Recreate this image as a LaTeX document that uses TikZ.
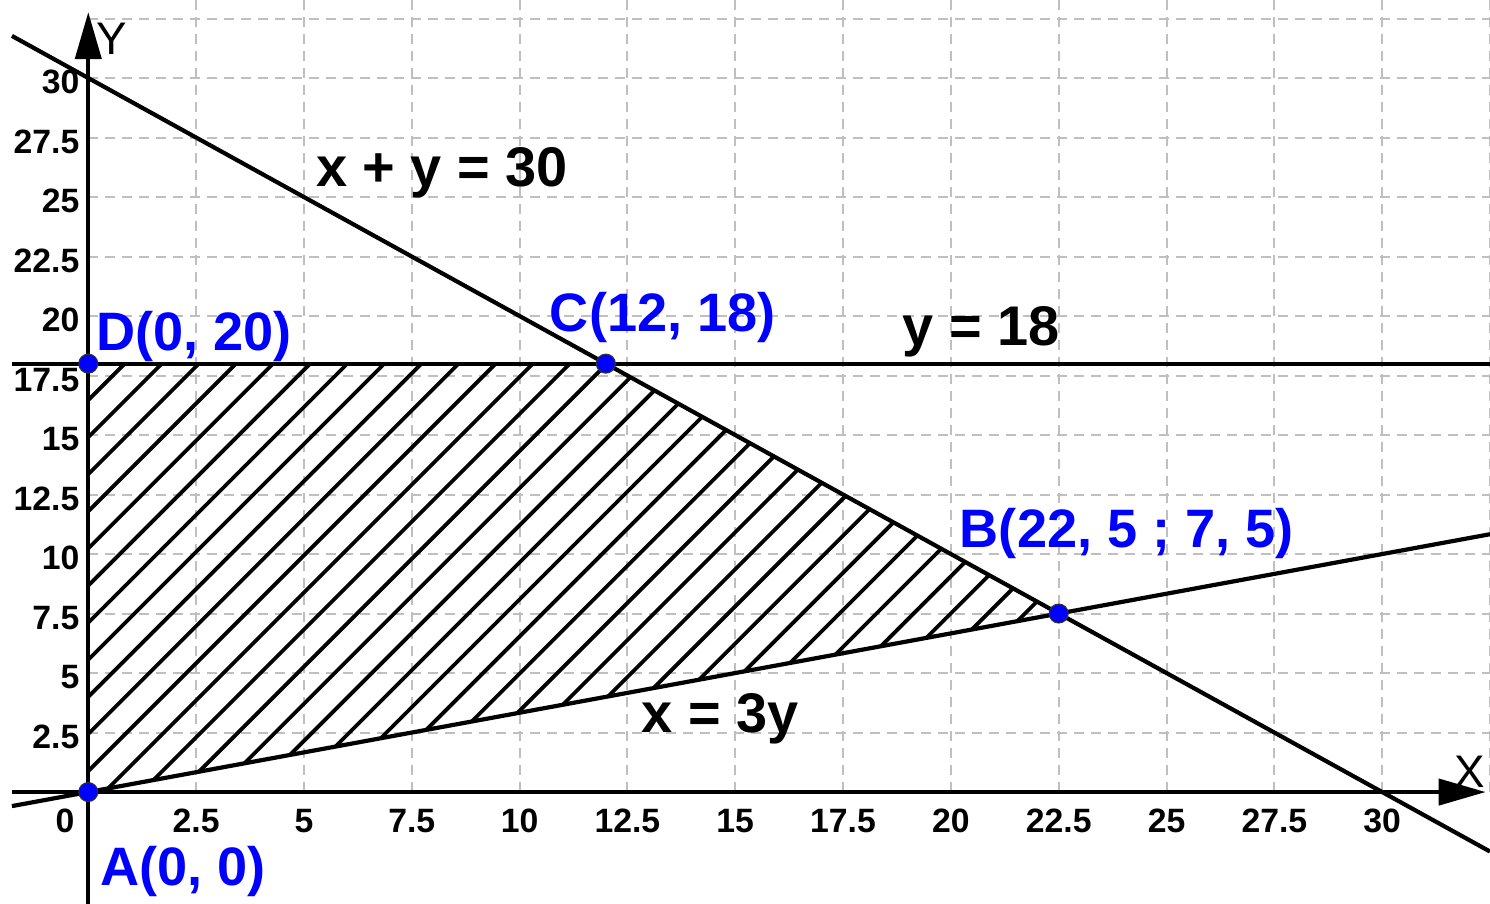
\documentclass[tikz,border=0pt]{standalone}
\usepackage{fontspec}
\setmainfont{Liberation Sans}
\usetikzlibrary{arrows.meta}
\tikzstyle{gridline} = [black!25, line width=0.02cm, dash pattern=on 0.1cm off 0.07cm]
\tikzstyle{axisline} = [-{Triangle[length=0.47cm, width=0.26cm]}, line width=0.042cm]
\tikzstyle{boundary} = [line width=0.042cm]
\tikzstyle{hatch} = [line width=0.038cm]
\tikzstyle{corner} = [circle, fill=blue, draw=black!80, line width=0.3pt, inner sep=0pt, minimum size=0.19cm]
\tikzstyle{ptlabel} = [text=blue, font=\fontsize{15.4}{19}\selectfont\bfseries, anchor=base, inner sep=0pt]
\tikzstyle{eqlabel} = [font=\fontsize{15.9}{19}\selectfont\bfseries, anchor=base, inner sep=0pt]
\tikzstyle{ticklabel} = [font=\fontsize{9.6}{11}\selectfont\bfseries, inner sep=0pt]
\tikzstyle{axislabel} = [font=\fontsize{13}{15}\selectfont, anchor=base, inner sep=0pt]
\begin{document}
\begin{tikzpicture}[x=0.4313cm, y=0.238cm]
    \useasboundingbox (-2.047,-4.664) rectangle (32.5,33.28);

    % Grid
    \foreach \v in {2.5,5,7.5,10,12.5,15,17.5,20,22.5,25,27.5,30,32.5} {
        \draw[gridline] (\v,0) -- (\v,33.28);
        \draw[gridline] (0,\v) -- (32.5,\v);
    }

    % Corners of the region
    \coordinate (vA) at (0,0);
    \coordinate (vB) at (22.5,7.5);
    \coordinate (vC) at (12,18);
    \coordinate (vD) at (0,18);

    % Hatching
    \begin{scope}
        \clip (vA) -- (vB) -- (vC) -- (vD) -- cycle;
        \foreach \k [evaluate=\k as \c using 3.92-0.371*\k] in {-1,...,34}
            \draw[hatch] ([shift={(0cm,\c cm)}]vA) -- ++(12cm,12cm);
    \end{scope}

    % Constraint lines
    \coordinate (p1) at (-1.77,31.77);
    \coordinate (p2) at (32.5,-2.5);
    \coordinate (q1) at (-1.77,-0.59);
    \coordinate (q2) at (32.5,10.833);
    \coordinate (r1) at (-1.77,18);
    \coordinate (r2) at (32.5,18);
    \draw[boundary] (p1) -- (p2);
    \draw[boundary] (q1) -- (q2);
    \draw[boundary] (r1) -- (r2);

    % Axes
    \coordinate (xs) at (-1.77,0);
    \coordinate (xe) at (32.4,0);
    \coordinate (ys) at (0,-4.7);
    \coordinate (ye) at (0,32.77);
    \draw[axisline] (xs) -- (xe);
    \draw[axisline] (ys) -- (ye);
    \node[axislabel] (xlab) at (32.04,0.21) {X};
    \node[axislabel] (ylab) at (0.55,30.97) {Y};

    % Tick labels
    \foreach \v [count=\i] in {2.5,5,7.5,10,12.5,15,17.5,20,22.5,25,27.5,30} {
        \node[ticklabel, anchor=base east] (ty\i) at (-0.19,\v-0.65) {\v};
        \node[ticklabel, anchor=base] (tx\i) at (\v,-1.68) {\v};
    }
    \node[ticklabel, anchor=base] (t0) at (-0.54,-1.68) {0};

    % Equations
    \node[eqlabel] (e1) at (8.2,25.46) {x + y = 30};
    \node[eqlabel] (e2) at (20.7,18.78) {y = 18};
    \node[eqlabel] (e3) at (14.65,2.52) {x = 3y};

    % Corner points
    \node[corner] (A) at (vA) {};
    \node[corner] (B) at (vB) {};
    \node[corner] (C) at (vC) {};
    \node[corner] (D) at (vD) {};
    \node[ptlabel] (la) at (2.19,-3.91) {A(0, 0)};
    \node[ptlabel] (lb) at (24.08,10.29) {B(22, 5 ; 7, 5)};
    \node[ptlabel] (lc) at (13.32,19.33) {C(12, 18)};
    \node[ptlabel] (ld) at (2.45,18.57) {D(0, 20)};

\end{tikzpicture}
\end{document}
